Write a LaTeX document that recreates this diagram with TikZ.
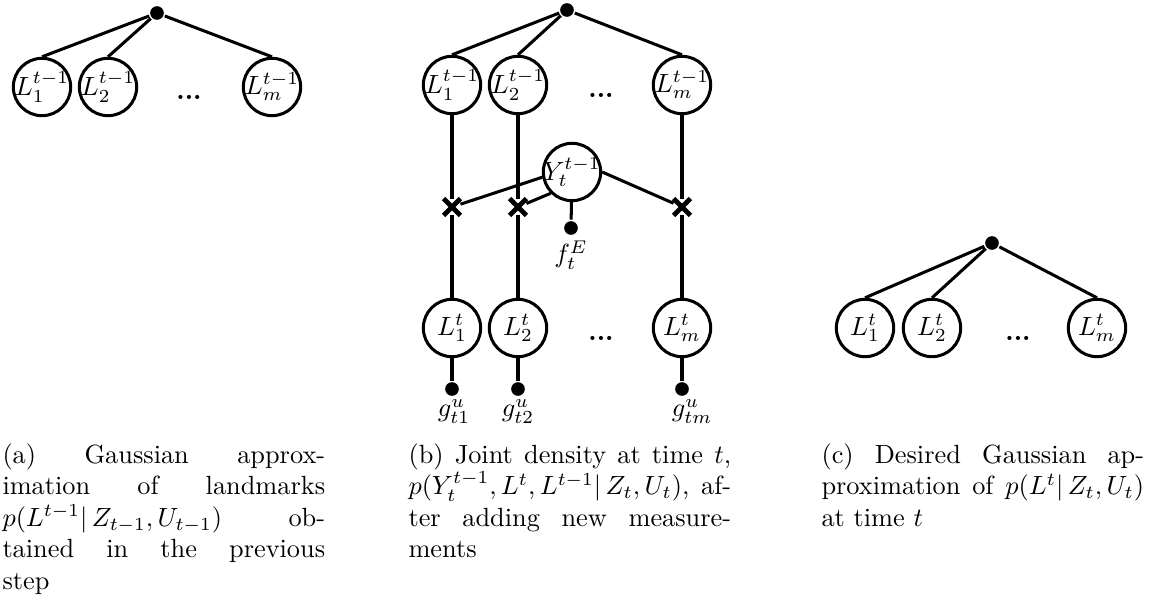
\documentclass[tikz,border=0pt]{standalone}
\usepackage{amsmath}
\usetikzlibrary{shapes.misc}
\begin{document}
\begin{tikzpicture}[x=0.38pt,y=-0.38pt,
  every path/.style={line width=1.15pt},
  var/.style={circle,draw,line width=1.15pt,minimum size=21.8pt,inner sep=0pt},
  fac/.style={circle,fill=black,minimum size=5.2pt,inner sep=0pt},
  xfac/.style={cross out,draw,line width=1.8pt,minimum size=4.6pt,inner sep=0pt},
  etc/.style={inner sep=0pt,font=\bfseries},
  lbl/.style={inner sep=0pt,anchor=north},
  capbox/.style={text width=122.6pt,align=justify,inner sep=0pt,anchor=base west}]
\useasboundingbox (0,0) rectangle (1161,600);
% ---------- (a) landmarks at t-1 ----------
\node[fac] (ra) at (157,13) {};
\node[var] (a1) at (42,87) {\makebox[0pt]{$L_1^{t-1}$}};
\node[var] (a2) at (108,87) {\makebox[0pt]{$L_2^{t-1}$}};
\node[var] (am) at (272,87) {\makebox[0pt]{$L_m^{t-1}$}};
\node[etc] (ad) at (189,97) {...};
\draw (ra) -- (a1.north) (ra) -- (a2.north) (ra) -- (am.north);
% ---------- (b) joint density ----------
\node[fac] (rb) at (567,10) {};
\node[var] (p1) at (452,85) {\makebox[0pt]{$L_1^{t-1}$}};
\node[var] (p2) at (518,85) {\makebox[0pt]{$L_2^{t-1}$}};
\node[var] (pm) at (682,85) {\makebox[0pt]{$L_m^{t-1}$}};
\node[etc] (pd) at (601,95) {...};
\draw (rb) -- (p1.north) (rb) -- (p2.north) (rb) -- (pm.north);
\node[var] (y) at (572,172) {\makebox[0pt]{$Y_t^{t-1}$}};
\node[xfac] (x1) at (452,207) {};
\node[xfac] (x2) at (518,207) {};
\node[xfac] (xm) at (682,207) {};
\node[fac] (fe) at (571,228) {};
\node[lbl] (fel) at (571,239) {$f_t^E$};
\node[var] (c1) at (452,328) {\makebox[0pt]{$L_1^{t}$}};
\node[var] (c2) at (518,328) {\makebox[0pt]{$L_2^{t}$}};
\node[var] (cm) at (682,328) {\makebox[0pt]{$L_m^{t}$}};
\node[etc] (cd) at (601,338) {...};
\node[fac] (g1) at (452,389) {};
\node[fac] (g2) at (518,389) {};
\node[fac] (gm) at (682,389) {};
\node[lbl] (g1l) at (454,398) {$g_{t1}^u$};
\node[lbl] (g2l) at (518,398) {$g_{t2}^u$};
\node[lbl] (gml) at (692,398) {$g_{tm}^u$};
\draw (p1) -- (x1) -- (c1);
\draw (p2) -- (x2) -- (c2);
\draw (pm) -- (xm) -- (cm);
\draw (y.190) -- (x1);
\draw (y.south west) -- (x2);
\draw (y.east) -- (xm);
\draw (y) -- (fe);
\draw (c1) -- (g1) (c2) -- (g2) (cm) -- (gm);
% ---------- (c) landmarks at t ----------
\node[fac] (rc) at (992,243) {};
\node[var] (d1) at (865,328) {\makebox[0pt]{$L_1^{t}$}};
\node[var] (d2) at (932,328) {\makebox[0pt]{$L_2^{t}$}};
\node[var] (dm) at (1097,328) {\makebox[0pt]{$L_m^{t}$}};
\node[etc] (dd) at (1018,338) {...};
\draw (rc) -- (d1.north) (rc) -- (d2.north) (rc) -- (dm.north);
% ---------- captions ----------
\node[capbox] (capa) at (1,463) {(a) Gaussian approximation of landmarks $p(L^{t-1}|\,Z_{t-1},U_{t-1})$ obtained in the previous step};
\node[capbox] (capb) at (407,463) {(b) Joint density at time $t$, $p(Y_t^{t-1},L^t,L^{t-1}|\,Z_t,U_t)$, after adding new measurements};
\node[capbox] (capc) at (820,463) {(c) Desired Gaussian approximation of $p(L^t|\,Z_t,U_t)$ at time $t$};
\end{tikzpicture}
\end{document}
